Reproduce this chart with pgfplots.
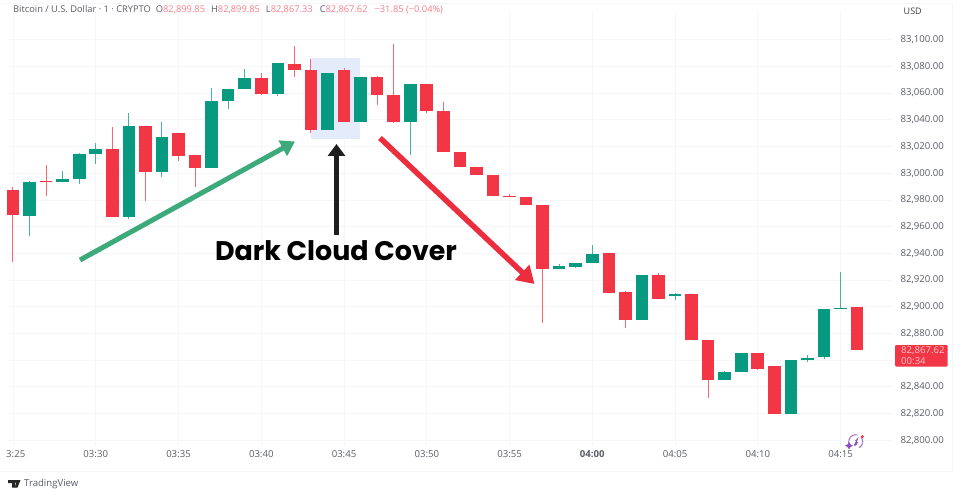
\documentclass[border=0pt]{standalone}
\usepackage{fontspec}
\setmainfont{Open Sans}
\newfontfamily\poppins{Poppins}
\usepackage{pgfplots}
\usepackage{pgfplotstable}
\pgfplotsset{compat=1.18}
\usetikzlibrary{arrows.meta}

\definecolor{upc}{HTML}{089981}
\definecolor{downc}{HTML}{F23645}
\definecolor{gridc}{HTML}{F6F6F8}
\definecolor{labelc}{HTML}{5A5D66}
\definecolor{valc}{HTML}{F5808B}
\definecolor{boxc}{HTML}{E4EBFB}
\definecolor{arrowg}{HTML}{3CAA7A}
\definecolor{arrowr}{HTML}{EC2D3E}
\definecolor{badge}{HTML}{8C50BE}

% minute (0 = 03:25), open, high, low, close
\pgfplotstableread{
t o h l c
0 82987.4 82989.4 82933.5 82968.4
2 82994.1 83006.1 82983.1 82993.4
6 83018.1 83034.3 82966.9 82966.9
8 83035.1 83035.1 82979.2 83001.1
10 83029.8 83029.8 83009.1 83013.1
11 83013.4 83013.4 82989.6 83003.6
15 83071.0 83074.8 83058.3 83059.6
17 83081.5 83095.0 83072.3 83077.3
18 83077.0 83085.3 83029.8 83032.6
20 83077.0 83078.8 83038.1 83038.1
22 83071.8 83072.8 83051.3 83058.8
23 83058.8 83096.7 83037.6 83038.1
25 83067.0 83067.0 83044.8 83046.6
26 83046.6 83053.6 83016.1 83016.1
27 83016.1 83016.1 83004.6 83004.6
28 83004.6 83004.6 82998.9 82998.9
29 82998.9 82998.9 82982.6 82982.6
30 82983.2 82984.4 82982.0 82982.8
31 82982.4 82982.4 82975.9 82975.9
32 82976.4 82976.4 82888.0 82928.5
36 82940.0 82940.0 82910.5 82910.5
37 82911.0 82911.5 82883.8 82889.8
39 82923.5 82925.2 82905.5 82906.0
41 82909.2 82909.2 82875.0 82875.3
42 82875.3 82875.3 82831.9 82845.1
45 82865.6 82865.6 82852.6 82853.6
46 82855.3 82855.8 82819.4 82819.4
51 82899.85 82899.85 82867.33 82867.62
}\downtable

\pgfplotstableread{
t o h l c
1 82967.9 82994.1 82952.9 82993.6
3 82993.1 83001.4 82993.1 82995.4
4 82995.4 83015.0 82992.1 83014.6
5 83014.1 83022.3 83007.1 83018.1
7 82967.4 83045.1 82965.4 83035.1
9 83001.1 83038.6 82997.4 83027.1
12 83003.6 83063.5 83003.6 83053.8
13 83054.1 83063.0 83048.1 83063.0
14 83062.8 83077.8 83062.8 83071.0
16 83059.6 83082.3 83057.8 83082.3
19 83032.6 83074.8 83032.6 83074.8
21 83038.1 83071.8 83038.1 83071.8
24 83038.1 83067.0 83013.4 83067.0
33 82928.2 82931.7 82927.9 82930.2
34 82929.9 82933.0 82929.0 82932.5
35 82932.5 82946.2 82932.5 82939.7
38 82889.8 82923.7 82889.8 82923.7
40 82907.7 82910.0 82904.7 82909.2
43 82845.1 82851.9 82845.1 82851.1
44 82851.1 82865.6 82851.1 82865.6
47 82819.4 82859.8 82819.4 82859.8
48 82859.8 82863.8 82858.5 82861.5
49 82862.3 82898.0 82861.0 82898.0
50 82898.0 82926.2 82898.0 82899.0
}\uptable

% wicks first, bodies on top; both are error bars running up from the lower end
\newcommand{\candles}[2]{
  \addplot[draw=none, no marks, forget plot,
    error bars/.cd, y dir=plus, y explicit, error mark=none,
    error bar style={draw=#2!75, line width=1pt}]
    table[x=t, y=l, y error plus expr={\thisrow{h}-\thisrow{l}}] {#1};
  \addplot[draw=none, no marks, forget plot,
    error bars/.cd, y dir=plus, y explicit, error mark=none,
    error bar style={draw=#2, line width=12.6pt}]
    table[x=t, y expr={min(\thisrow{o},\thisrow{c})},
          y error plus expr={abs(\thisrow{o}-\thisrow{c})}] {#1};
}

\begin{document}
\begin{tikzpicture}[x=1pt, y=1pt]
\path[use as bounding box, fill=white] (0,0) rectangle (960,496);

% faint pane borders
\draw[gridc, line width=0.7pt] (0,25) -- (953,25) (952.5,25) -- (952.5,493) (0,493) -- (953,493);

\begin{axis}[
  at={(7pt,50pt)}, anchor=south west,
  scale only axis, width=886pt, height=434pt,
  xmin=-0.3625, xmax=53.17, ymin=82795.7, ymax=83120.7,
  axis line style={draw=none},
  major tick length=0pt,
  grid=major, major grid style={gridc, line width=0.7pt},
  extra y ticks={82860}, extra y tick labels={},
  xtick={0,5,...,50},
  xticklabels={\hphantom{0}3:25,03:30,03:35,03:40,03:45,03:50,03:55,\textbf{04:00},04:05,04:10,04:15},
  ytick={82800,82820,82840,82880,82900,82920,82940,82960,82980,83000,83020,83040,83060,83080,83100},
  scaled y ticks=false,
  yticklabel pos=right,
  tick label style={font=\fontsize{9.6}{10}\selectfont, text=labelc},
  xticklabel style={anchor=center, yshift=-8pt},
  yticklabel style={anchor=west, xshift=4pt},
  /pgf/number format/fixed,
  /pgf/number format/fixed zerofill,
  /pgf/number format/precision=2,
  /pgf/number format/1000 sep={,},
  /pgf/number format/assume math mode=true,
]
\addplot[fill=boxc, draw=none, forget plot] coordinates
  {(17.98,83086.3) (20.94,83086.3) (20.94,83025.6) (17.98,83025.6)} -- cycle;
\candles{\downtable}{downc}
\candles{\uptable}{upc}
\end{axis}

% header line
\node[anchor=west, inner sep=0, text=labelc, font=\fontsize{9.3}{10}\selectfont] at (13,486)
  {Bitcoin / U.S. Dollar · 1 · CRYPTO\hspace{5pt}O\textcolor{valc}{82,899.85}\hspace{6pt}H\textcolor{valc}{82,899.85}\hspace{6pt}L\textcolor{valc}{82,867.33}\hspace{7pt}C\textcolor{valc}{82,867.62}\hspace{7pt}\textcolor{valc}{−31.85 (−0.04\%)}};
\node[anchor=west, inner sep=0, text=black!75, font=\fontsize{9}{10}\selectfont] at (903.5,485) {USD};

% arrows and callout
\draw[-{Triangle[length=14pt, width=17pt]}, line width=5pt, draw=arrowg, fill=arrowg] (80,236) -- (295,354.5);
\draw[-{Triangle[length=12pt, width=17pt]}, line width=5pt, draw=black!88, fill=black!88] (336.5,261) -- (336.5,352);
\draw[-{Triangle[length=17pt, width=20pt]}, line width=5.5pt, draw=arrowr, fill=arrowr] (380,358) -- (534.5,212);
\node[anchor=center, inner sep=0, font=\poppins\bfseries\fontsize{26.9}{30}\selectfont, text=black] at (336,245) {Dark Cloud Cover};

% last price tag
\fill[downc, rounded corners=1pt] (895,129.5) rectangle (947.5,151);
\node[anchor=west, inner sep=0, text=white!70!downc, font=\fontsize{9.6}{10}\selectfont] at (901,145) {82,867.62};
\node[anchor=west, inner sep=0, text=white!70!downc, font=\fontsize{9.6}{10}\selectfont] at (901,135) {00:34};

% replay badge
\draw[badge!75, line width=1.1pt] (855.7,54.3) ++(-60:7) arc (-60:40:7) (855.7,54.3) ++(75:7) arc (75:205:7);
\fill[badge] (853.5,50.5) -- (856.2,54.8) -- (854.8,54.8) -- (858.5,59) -- (856.8,54) -- (858.2,54) -- (856,50.5) -- cycle;
\fill[badge] (849,46.5) -- (850.5,49) -- (853,50.3) -- (850.5,51.6) -- (849,54) -- (847.5,51.6) -- (845,50.3) -- (847.5,49) -- cycle;
\fill[downc] (862.3,59.3) circle (1.7);

% TradingView mark and name
\fill[black!85] (8,16) -- (15,16) -- (15,8.5) -- (12,8.5) -- (12,13) -- (8,13) -- cycle;
\fill[black!85] (14,16) -- (20.5,16) -- (17.5,8.5) -- (14.5,8.5) -- (16,12.5) -- cycle;
\fill[black!85] (15.5,14.5) circle (1.2);
\node[anchor=west, inner sep=0, text=labelc, font=\fontsize{9.6}{10}\selectfont] at (24,12) {TradingView};
\end{tikzpicture}
\end{document}
